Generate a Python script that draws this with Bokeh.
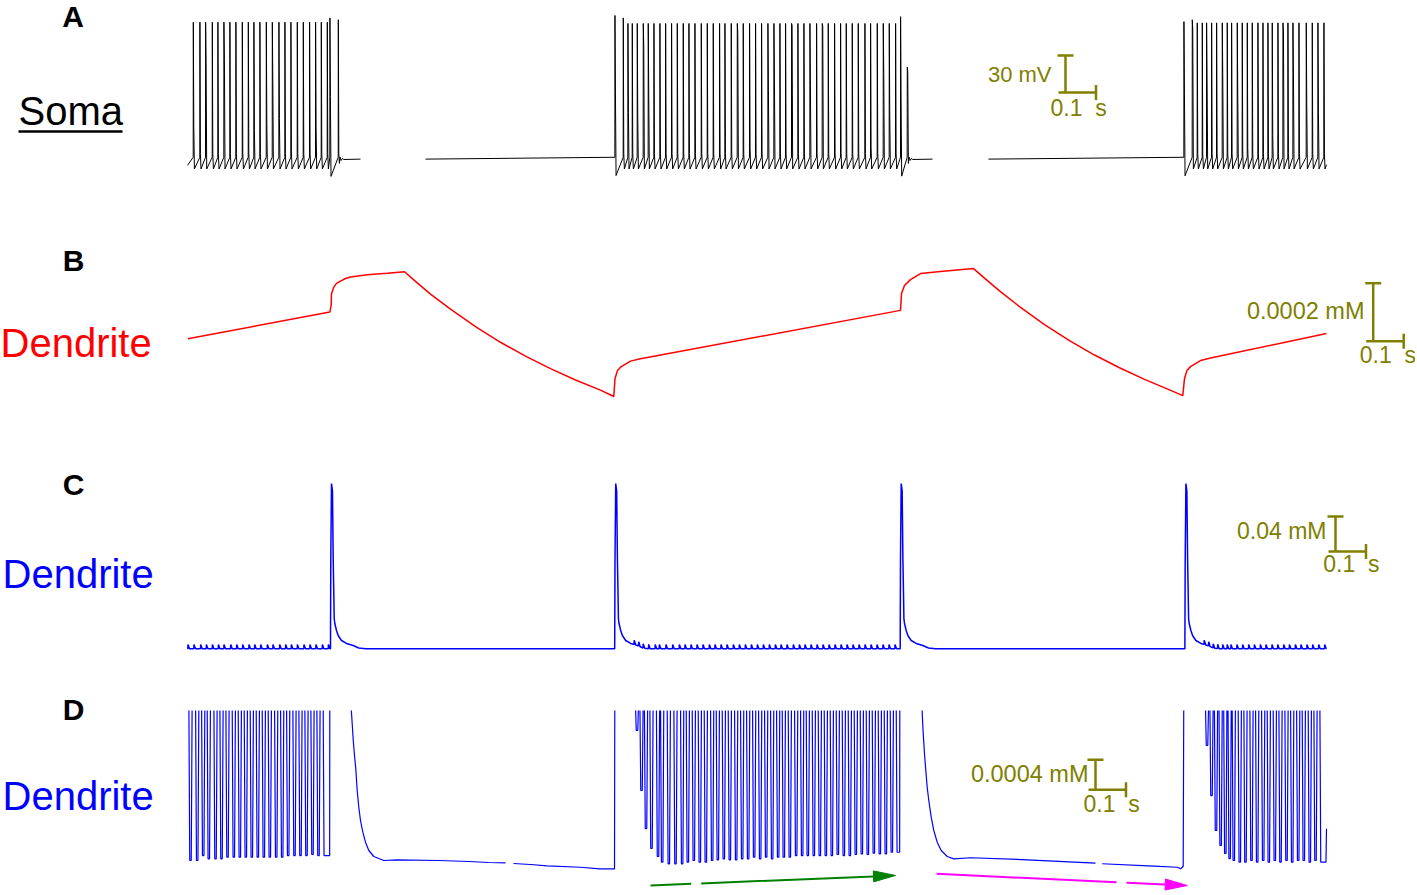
import numpy as np
from bokeh.plotting import figure
from bokeh.layouts import column
from bokeh.models import Range1d
from bokeh.core.properties import value
from bokeh.embed import file_html
from bokeh.resources import INLINE

# ===================== DATA =====================
# time in ms from the start of the traces
T_END = 3037.3

# ---- A: soma membrane potential (mV) ----
soma_rest_mv = -60.5
soma_start_mv = -65.5
soma_end_mv = -65.0
soma_threshold_mv = -59.0
soma_visible_spans = [(0.0, 461.3), (634.7, 1986.7), (2136.0, T_END)]
soma_after_burst_dt = [5.0, 8.0, 11.0, 15.0]
soma_after_burst_mv = [-58.9, -61.6, -60.0, -60.8]

soma_b1_t = [15.2, 32.8, 48.0, 65.9, 80.8, 96.8, 112.8, 128.8, 145.9, 161.9,
             176.8, 192.8, 209.9, 225.9, 243.5, 259.5, 275.5, 292.5, 308.5, 325.3,
             341.3, 356.5, 372.5, 379.5, 401.9]
soma_b1_peak = [50.5, 50.5, 50.5, 50.5, 50.5, 50.5, 50.5, 50.5, 50.5, 50.5,
                50.5, 50.5, 50.5, 50.5, 50.5, 50.5, 50.5, 50.5, 50.5, 50.5,
                50.5, 50.5, 50.5, 54.0, 52.5]
soma_b1_part = [-34.6, -56.0, 16.8, -56.0, -56.0, 19.5, -56.0, -56.0, -56.0, -56.0,
                -37.3, -56.0, -31.6, 1.9, -27.6, -56.0, -53.5, -56.0, -56.0, -56.0,
                -34.0, -56.0, -56.0, -9.7, -56.0]
soma_b1_ahp = [-68.5] * 23 + [-74.5, -64.0]

soma_b2_t = [1139.6, 1161.8, 1174.2, 1185.8, 1199.1, 1215.1, 1228.4, 1243.6, 1259.5, 1274.7,
             1290.6, 1305.8, 1321.7, 1336.9, 1352.9, 1369.8, 1385.8, 1401.7, 1418.6, 1432.9,
             1449.7, 1465.8, 1481.7, 1498.6, 1514.6, 1530.6, 1547.5, 1563.5, 1579.5, 1594.6,
             1610.6, 1627.5, 1643.5, 1659.5, 1677.3, 1692.4, 1708.4, 1725.3, 1741.3, 1756.4,
             1772.4, 1788.4, 1806.2, 1821.3, 1839.1, 1855.1, 1871.1, 1888.0, 1901.3, 1919.1]
soma_b2_peak = [56.0, 54.0, 49.5, 49.5, 49.5, 49.5, 49.5, 49.5, 49.5, 49.5,
                49.5, 49.5, 49.5, 49.5, 49.5, 49.5, 49.5, 49.5, 49.5, 49.5,
                49.5, 49.5, 49.5, 49.5, 49.5, 49.5, 49.5, 49.5, 49.5, 49.5,
                49.5, 49.5, 49.5, 49.5, 49.5, 49.5, 49.5, 49.5, 49.5, 49.5,
                49.5, 49.5, 49.5, 49.5, 49.5, 49.5, 49.5, 49.5, 55.0, 14.0]
soma_b2_part = [-6.2, -56.0, -22.5, -56.0, -26.5, 30.8, -11.6, -56.0, -56.0, -56.0,
                -56.0, -56.0, -56.0, -56.0, -56.0, -56.0, -56.0, -56.0, -56.0, -56.0,
                -56.0, 42.4, -56.0, -52.0, -56.0, -56.0, -4.8, 7.3, -56.0, -56.0,
                47.9, -56.0, -56.0, -0.8, -56.0, 47.0, -56.0, -56.0, -56.0, -56.0,
                -56.0, -56.0, -56.0, -50.8, -56.0, 10.0, -25.1, -56.0, -14.3, 10.0]
soma_b2_ahp = [-73.8] + [-68.5] * 47 + [-74.3, -64.0]

soma_b3_t = [2656.9, 2679.1, 2692.4, 2705.8, 2717.3, 2730.7, 2744.0, 2759.1, 2772.4, 2784.0,
             2799.1, 2812.4, 2825.8, 2839.1, 2854.2, 2867.6, 2880.9, 2892.4, 2907.6, 2920.9,
             2934.2, 2947.6, 2963.6, 2983.1, 2999.1, 3014.2, 3030.2]
soma_b3_peak = [51.0, 52.5, 50.0, 50.0, 50.0, 50.0, 50.0, 50.0, 50.0, 50.0,
                50.0, 50.0, 50.0, 50.0, 50.0, 50.0, 50.0, 50.0, 50.0, 50.0,
                50.0, 50.0, 50.0, 50.0, 50.0, 50.0, 50.0]
soma_b3_part = [-7.5, 45.0, -56.0, -56.0, 1.9, -56.0, -56.0, 7.3, -56.0, -56.0,
                -8.9, -56.0, -52.0, -56.0, -56.0, -56.0, -56.0, -41.3, -56.0, 43.8,
                -56.0, 8.7, -56.0, -15.6, -56.0, -22.4, -56.0]
soma_b3_ahp = [-74.0] + [-68.5] * 26

# ---- B: dendritic concentration (mM), red ----
dendB_t = [0.8, 379.5, 383.2, 384.0, 390.1, 397.3, 408.0, 421.3, 434.7, 479.2,
           532.5, 578.7, 608.0, 648.0, 701.3, 768.0, 834.7, 901.3, 968.0, 1034.7,
           1101.3, 1136.8,
           1140.0, 1146.7, 1154.7, 1181.3, 1208.0, 1901.3, 1902.7, 1904.0, 1912.0, 1928.0,
           1954.7, 2008.0, 2096.0, 2125.3, 2165.3, 2218.7, 2285.3, 2352.0, 2418.7, 2485.3,
           2552.0, 2618.7, 2654.1,
           2658.7, 2665.3, 2674.7, 2701.3, 2728.0, 3037.3]
dendB_mM = [0.000699, 0.000791, 0.000814, 0.000854, 0.000877, 0.000890, 0.000898, 0.000907, 0.000912, 0.000920,
            0.000925, 0.000930, 0.000897, 0.000853, 0.000801, 0.000741, 0.000687, 0.000639, 0.000596, 0.000557,
            0.000522, 0.000500,
            0.000561, 0.000590, 0.000601, 0.000622, 0.000630, 0.000797, 0.000824, 0.000855, 0.000883, 0.000903,
            0.000924, 0.000931, 0.000941, 0.000908, 0.000864, 0.000810, 0.000748, 0.000693, 0.000643, 0.000599,
            0.000559, 0.000523, 0.000503,
            0.000562, 0.000590, 0.000603, 0.000624, 0.000633, 0.000717]

# ---- C: dendritic concentration (mM), blue ----
dendC_base_mM = 0.010
dendC_spike_t = [382.1, 1140.0, 1901.3, 2660.5]
dendC_spike_dt = [-0.8, 0.0, 1.9, 4.5, 6.4, 8.0, 9.1, 10.7, 15.2, 19.7, 28.5, 41.9, 59.7, 74.7, 93.3]
dendC_spike_mM = [0.0100, 0.1109, 0.1989, 0.1901, 0.1132, 0.0747, 0.0446, 0.0389, 0.0309, 0.0252,
                  0.0195, 0.0161, 0.0138, 0.0109, 0.0100]
dendC_ripple_mM = 0.0049
dendC_ripple_t = [
    0.8, 16.8, 34.7, 49.9, 65.9, 81.9, 96.8, 114.7, 130.7, 146.7, 163.5, 178.7, 194.7, 212.5,
    227.5, 245.3, 261.3, 276.5, 292.5, 310.1, 326.1, 342.1, 359.2, 375.2,
    1190.7, 1202.7, 1214.7, 1229.3, 1246.7, 1257.8, 1275.5, 1293.3, 1311.1, 1326.2, 1342.2,
    1358.2, 1374.2, 1391.1, 1406.2, 1422.2, 1438.2, 1455.1, 1471.1, 1487.1, 1503.1, 1519.1,
    1535.1, 1551.1, 1567.1, 1582.2, 1598.2, 1615.1, 1631.1, 1646.2, 1662.2, 1678.2, 1694.2,
    1710.2, 1726.2, 1742.2, 1758.2, 1774.2, 1790.2, 1806.2, 1822.2, 1838.2, 1854.2, 1870.2, 1886.2,
    2710.7, 2722.7, 2734.7, 2746.7, 2760.0, 2772.0, 2782.1, 2798.1, 2813.3, 2829.3, 2844.5,
    2860.5, 2875.5, 2891.5, 2906.7, 2922.7, 2937.9, 2953.9, 2968.8, 2984.8, 3000.0, 3016.0, 3032.0]

# ---- D: dendritic concentration (mM), blue; the trace runs off the top of the window ----
dendD_rise_t = [379.5, 1139.5, 1899.5, 2656.8]
dendD_b1_trough_t = [8.0, 25.9, 41.9, 56.8, 74.7, 90.7, 106.7, 123.5, 139.5, 155.5, 171.5, 187.5,
                     203.5, 219.5, 236.5, 252.5, 268.5, 285.3, 301.3, 317.3, 333.3, 349.3, 366.1]
dendD_b1_trough_mM = [0.000607, 0.000607, 0.000673, 0.000629, 0.000629, 0.000629, 0.000651, 0.000651,
                      0.000651, 0.000651, 0.000651, 0.000651, 0.000651, 0.000651, 0.000651, 0.000651,
                      0.000673, 0.000673, 0.000673, 0.000673, 0.000687, 0.000673, 0.000673]
dendD_b2_trough_t = [1198.7, 1210.7, 1222.7, 1237.3, 1254.7, 1265.8, 1283.5, 1301.3, 1319.1, 1334.2,
                     1350.2, 1366.2, 1382.2, 1399.1, 1414.2, 1430.2, 1446.2, 1463.1, 1479.1, 1495.1,
                     1511.1, 1527.1, 1543.1, 1559.1, 1575.1, 1590.2, 1606.2, 1623.1, 1639.1, 1654.2,
                     1670.2, 1686.2, 1702.2, 1718.2, 1734.2, 1750.2, 1766.2, 1782.2, 1798.2, 1814.2,
                     1830.2, 1846.2, 1862.2, 1878.2, 1894.2]
dendD_b2_trough_mM = [0.002340, 0.001540, 0.001033, 0.000767, 0.000660, 0.000584, 0.000563, 0.000563,
                      0.000563, 0.000584, 0.000607, 0.000584, 0.000584, 0.000607, 0.000616, 0.000629,
                      0.000616, 0.000616, 0.000629, 0.000629, 0.000651, 0.000629, 0.000651, 0.000629,
                      0.000651, 0.000651, 0.000651, 0.000673, 0.000673, 0.000673, 0.000673, 0.000673,
                      0.000673, 0.000673, 0.000687, 0.000673, 0.000673, 0.000687, 0.000696, 0.000687,
                      0.000704, 0.000696, 0.000696, 0.000717, 0.000717]
dendD_b3_trough_t = [2718.7, 2730.7, 2742.7, 2755.0, 2767.5, 2779.0, 2790.1, 2806.1, 2821.3, 2837.3,
                     2852.5, 2868.5, 2883.5, 2899.5, 2914.7, 2930.7, 2945.9, 2961.9, 2976.8, 2992.8,
                     3008.0, 3024.0]
dendD_b3_trough_mM = [0.002140, 0.001473, 0.001007, 0.000807, 0.000700, 0.000633, 0.000607, 0.000584,
                      0.000584, 0.000607, 0.000584, 0.000607, 0.000584, 0.000607, 0.000584, 0.000607,
                      0.000584, 0.000607, 0.000607, 0.000584, 0.000607, 0.000584]
dendD_end_mM = 0.00103
dendD_decay1_t = [437.3, 439.2, 441.9, 445.3, 448.8, 452.5, 456.8, 461.3, 467.5, 474.7,
                  483.5, 496.8, 523.5, 559.2, 670.1, 750.1, 803.5, 848.0,
                  None,
                  869.3, 914.7, 959.2, 1048.0, 1099.5, 1138.7]
dendD_decay1_mM = [0.002580, 0.002429, 0.002216, 0.002007, 0.001829, 0.001540, 0.001317, 0.001140, 0.000984, 0.000851,
                   0.000740, 0.000660, 0.000607, 0.000616, 0.000607, 0.000593, 0.000580, 0.000576,
                   None,
                   0.000567, 0.000553, 0.000536, 0.000517, 0.000496, 0.000496]
dendD_decay2_t = [1959.2, 1961.9, 1965.3, 1968.8, 1972.5, 1976.8, 1983.2, 1990.1, 1999.2, 2009.9,
                  2025.9, 2043.5, 2088.0, 2239.2, 2421.3,
                  None,
                  2439.2, 2576.8, 2639.2, 2648.0, 2655.2]
dendD_decay2_mM = [0.002580, 0.002300, 0.002033, 0.001807, 0.001584, 0.001407, 0.001184, 0.001007, 0.000851, 0.000740,
                   0.000660, 0.000629, 0.000643, 0.000616, 0.000571,
                   None,
                   0.000563, 0.000531, 0.000517, 0.000496, 0.000527]

# trend arrows under panel D: (t0, v0) -> tip (t1, v1), with a small break in the shaft
arrow_green = dict(t0=1234.7, v0=0.000273, t1=1888.0, v1=0.000407, gap=(1343.2, 1369.9))
arrow_magenta = dict(t0=1997.3, v0=0.000429, t1=2666.0, v1=0.000273, gap=(2477.3, 2504.0))

# scale bars (vertical amount, horizontal amount in ms) and their labels
scale_A = (30.0, 100.0, "30 mV", "0.1\u00a0\u00a0s")
scale_B = (0.0002, 100.0, "0.0002 mM", "0.1\u00a0\u00a0s")
scale_C = (0.04, 100.0, "0.04 mM", "0.1\u00a0\u00a0s")
scale_D = (0.0004, 100.0, "0.0004 mM", "0.1\u00a0\u00a0s")

# ===================== LAYOUT HELPERS =====================
FONT = value("Liberation Sans")
OLIVE = "#808000"
W = 1415
PX_PER_MS = 0.375
X0_PX = 187.0
BASELINE_FIX = 0.4   # svg text sits ~0.4 em below the requested alphabetic baseline


def tx(px):
    return (px - X0_PX) / PX_PER_MS


def xp(t):
    return X0_PX + t * PX_PER_MS


class Panel:
    def __init__(self, top, h, ypx0, v0, ppu):
        self.top, self.h, self.ypx0, self.v0, self.ppu = top, h, ypx0, v0, ppu

    def vy(self, py):
        return self.v0 + (self.ypx0 - py) / self.ppu

    def py(self, v):
        return self.ypx0 - (v - self.v0) * self.ppu


PA = Panel(0, 228, 158.0, -60.0, 37.0 / 30.0)
PB = Panel(228, 230, 396.0, 0.0005, 58.0 / 0.0002)
PC = Panel(458, 225, 648.3, 0.010, 35.0 / 0.04)
PD = Panel(683, 210, 868.0, 0.0005, 30.0 / 0.0004)
D_WINDOW_TOP_PX = 710   # panel D's trace is cut off here


def make_fig(P):
    p = figure(width=W, height=P.h,
               x_range=Range1d(tx(0), tx(W)),
               y_range=Range1d(P.vy(P.top + P.h), P.vy(P.top)),
               output_backend="svg", toolbar_location=None,
               x_axis_type=None, y_axis_type=None,
               min_border=0, min_border_left=0, min_border_right=0,
               min_border_top=0, min_border_bottom=0,
               outline_line_color=None, background_fill_color="white",
               border_fill_color="white")
    return p


def txt(p, P, xpx, ybase, s, color, size, align="left", bold=False):
    p.text(x=[tx(xpx)], y=[P.vy(ybase - BASELINE_FIX * size)], text=[s], text_color=color,
           text_font=FONT, text_font_size=f"{size}px", text_align=align,
           text_baseline="alphabetic", text_font_style="bold" if bold else "normal")


def scalebar(p, P, sc, vx, by, lab_right, lab_base, s_left, s_base, lab_size=23):
    yv, tv, ylab, tlab = sc
    x = tx(vx)
    y0 = P.vy(by)
    y1 = y0 + yv
    kw = dict(line_color=OLIVE, line_width=2.5)
    p.segment(x0=[x], y0=[y0], x1=[x], y1=[y1], **kw)
    p.segment(x0=[tx(vx - 8)], y0=[y1], x1=[tx(vx + 8)], y1=[y1], **kw)
    hx0 = tx(vx - 7)
    hx1 = hx0 + tv
    p.segment(x0=[hx0], y0=[y0], x1=[hx1], y1=[y0], **kw)
    p.segment(x0=[hx1], y0=[P.vy(by - 7.5)], x1=[hx1], y1=[P.vy(by + 7.5)], **kw)
    txt(p, P, lab_right, lab_base, ylab, OLIVE, lab_size, align="right")
    txt(p, P, s_left, s_base, tlab, OLIVE, 23, align="left")


def arrow(p, P, a, color):
    X0, Y0 = xp(a["t0"]), P.py(a["v0"])
    X1, Y1 = xp(a["t1"]), P.py(a["v1"])
    L = np.hypot(X1 - X0, Y1 - Y0)
    ux, uy = (X1 - X0) / L, (Y1 - Y0) / L
    bx, by = X1 - 22 * ux, Y1 - 22 * uy
    nx, ny = -uy, ux
    g0, g1 = a["gap"]
    frac0 = (xp(g0) - X0) / (bx - X0)
    frac1 = (xp(g1) - X0) / (bx - X0)
    gx0, gy0 = X0 + frac0 * (bx - X0), Y0 + frac0 * (by - Y0)
    gx1, gy1 = X0 + frac1 * (bx - X0), Y0 + frac1 * (by - Y0)
    xs = [tx(X0), tx(gx0), np.nan, tx(gx1), tx(bx)]
    ys = [P.vy(Y0), P.vy(gy0), np.nan, P.vy(gy1), P.vy(by)]
    p.line(xs, ys, line_color=color, line_width=2)
    tri_x = [tx(X1), tx(bx + 5.5 * nx), tx(bx - 5.5 * nx)]
    tri_y = [P.vy(Y1), P.vy(by + 5.5 * ny), P.vy(by - 5.5 * ny)]
    p.patch(tri_x, tri_y, fill_color=color, line_color=color, line_width=1)


# ===================== TRACE BUILDERS =====================
def soma_burst_xy(ts, pk, pa, ah):
    xs, ys = [], []
    for t, a, b, c in zip(ts, pk, pa, ah):
        xs += [t, t + 0.3, t + 1.6, t + 3.2]
        ys += [soma_threshold_mv, a, b, c]
    return xs, ys


def soma_trace():
    xs, ys = [soma_visible_spans[0][0]], [soma_start_mv]
    bursts = [(soma_b1_t, soma_b1_peak, soma_b1_part, soma_b1_ahp),
              (soma_b2_t, soma_b2_peak, soma_b2_part, soma_b2_ahp),
              (soma_b3_t, soma_b3_peak, soma_b3_part, soma_b3_ahp)]
    for k, (b, span) in enumerate(zip(bursts, soma_visible_spans)):
        if k > 0:
            xs += [span[0]]
            ys += [soma_rest_mv]
        bx, by = soma_burst_xy(*b)
        xs += bx
        ys += by
        if k < 2:
            tl = b[0][-1]
            xs += [tl + d for d in soma_after_burst_dt] + [span[1], np.nan]
            ys += list(soma_after_burst_mv) + [soma_rest_mv, np.nan]
        else:
            xs += [span[1]]
            ys += [soma_end_mv]
    return xs, ys


def dendC_trace():
    pts = [0.0, T_END]
    for ts in dendC_spike_t:
        pts += [ts + d for d in dendC_spike_dt]
    for r in dendC_ripple_t:
        pts += [r, r + 0.5, r + 4.5]
    pts = np.array(sorted(set(p for p in pts if 0.0 <= p <= T_END)))
    y = np.full(len(pts), dendC_base_mM)
    prof = np.array(dendC_spike_mM) - dendC_base_mM
    for ts in dendC_spike_t:
        y += np.interp(pts, ts + np.array(dendC_spike_dt), prof, left=0.0, right=0.0)
    for r in dendC_ripple_t:
        y += np.interp(pts, [r, r + 0.5, r + 4.5], [0.0, dendC_ripple_mM, 0.0], left=0.0, right=0.0)
    return pts, y


# off-window levels for panel D: the legs leave the window at its top edge and turn
# over in the strip hidden above it
D_HIDE = PD.vy(D_WINDOW_TOP_PX - 17)
D_EDGE = PD.vy(D_WINDOW_TOP_PX - 10)


def dendD_burst(tt, vv):
    xs, ys = [tt[0] - 6.0], [D_HIDE]
    n = len(tt)
    for i, (T, v) in enumerate(zip(tt, vv)):
        if i > 0:
            xs.append(0.5 * (tt[i - 1] + T))
            ys.append(D_HIDE)
        xs += [T - 4.4, T - 2.0, T + 2.0]
        ys += [D_EDGE, v, v]
        if i < n - 1:
            xs.append(T + 4.4)
            ys.append(D_EDGE)
    return xs, ys


def nanify(a):
    return [np.nan if v is None else v for v in a]


def dendD_trace():
    H = D_HIDE
    xs, ys = [0.0], [H]
    bx, by = dendD_burst(dendD_b1_trough_t, dendD_b1_trough_mM)
    xs += bx; ys += by
    xs += [dendD_rise_t[0] - 0.4, dendD_rise_t[0], dendD_decay1_t[0] - 3.0]
    ys += [dendD_b1_trough_mM[-1], H, H]
    xs += nanify(dendD_decay1_t); ys += nanify(dendD_decay1_mM)
    xs += [dendD_rise_t[1]]; ys += [H]
    bx, by = dendD_burst(dendD_b2_trough_t, dendD_b2_trough_mM)
    xs += bx; ys += by
    xs += [dendD_rise_t[2] - 0.4, dendD_rise_t[2], dendD_decay2_t[0] - 3.0]
    ys += [dendD_b2_trough_mM[-1], H, H]
    xs += nanify(dendD_decay2_t); ys += nanify(dendD_decay2_mM)
    xs += [dendD_rise_t[3]]; ys += [H]
    bx, by = dendD_burst(dendD_b3_trough_t, dendD_b3_trough_mM)
    xs += bx; ys += by
    xs += [T_END - 1.3, T_END]
    ys += [dendD_b3_trough_mM[-1], dendD_end_mM]
    return xs, ys


# ===================== PANEL A =====================
pA = make_fig(PA)
sx, sy = soma_trace()
pA.line(sx, sy, line_color="black", line_width=1)
txt(pA, PA, 72.5, 28, "A", "black", 30, align="center", bold=True)
txt(pA, PA, 18, 126, "Soma", "black", 40)
pA.segment(x0=[tx(18)], y0=[PA.vy(131)], x1=[tx(122)], y1=[PA.vy(131)], line_color="black", line_width=2.5)
scalebar(pA, PA, scale_A, 1065, 92, 1051, 83, 1050, 117, lab_size=22)

# ===================== PANEL B =====================
pB = make_fig(PB)
pB.line(dendB_t, dendB_mM, line_color="red", line_width=1.5)
txt(pB, PB, 73, 272, "B", "black", 30, align="center", bold=True)
txt(pB, PB, 0, 358, "Dendrite", "red", 40)
scalebar(pB, PB, scale_B, 1372.7, 340.7, 1364, 320, 1359.3, 364, lab_size=23.5)

# ===================== PANEL C =====================
pC = make_fig(PC)
cx, cy = dendC_trace()
pC.line(cx, cy, line_color="blue", line_width=1.5)
txt(pC, PC, 73, 496, "C", "black", 30, align="center", bold=True)
txt(pC, PC, 2, 589, "Dendrite", "blue", 40)
scalebar(pC, PC, scale_C, 1335, 551, 1326, 540, 1322.7, 573)

# ===================== PANEL D =====================
pD = make_fig(PD)
dx, dy = dendD_trace()
pD.line(dx, dy, line_color="blue", line_width=1.2)
# the trace is cut off at the top edge of its window
pD.quad(left=[tx(-20)], right=[tx(W + 20)], bottom=[PD.vy(D_WINDOW_TOP_PX)], top=[PD.vy(600)],
        fill_color="white", line_color=None)
txt(pD, PD, 73, 721, "D", "black", 30, align="center", bold=True)
txt(pD, PD, 2, 811, "Dendrite", "blue", 40)
scalebar(pD, PD, scale_D, 1095, 789.3, 1088, 783, 1083, 813, lab_size=23.5)
arrow(pD, PD, arrow_green, "#008000")
arrow(pD, PD, arrow_magenta, "#ff00ff")

layout = column(pA, pB, pC, pD, spacing=0)
open("out.html", "w").write(file_html(layout, INLINE))
